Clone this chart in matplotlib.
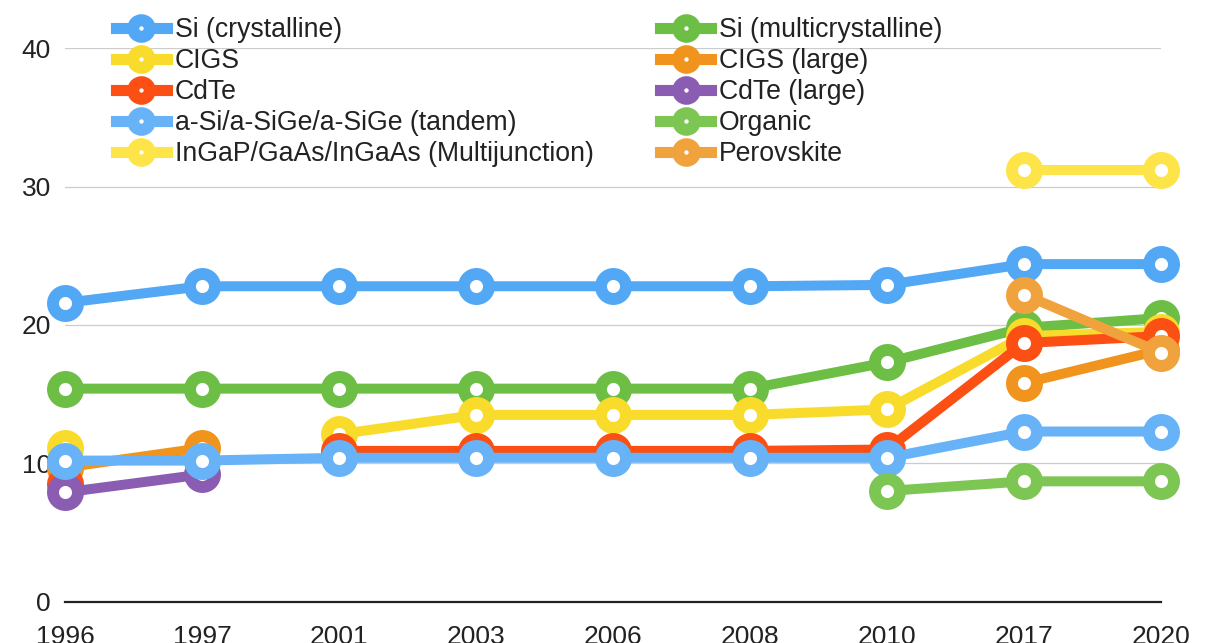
import numpy as np
import matplotlib
matplotlib.use("Agg")
import matplotlib.pyplot as plt
from matplotlib.lines import Line2D

plt.rcParams['font.family'] = ['Liberation Sans', 'DejaVu Sans']

years = ['1996', '1997', '2001', '2003', '2006', '2008', '2010', '2017', '2020']
nan = np.nan

# efficiency (%) per technology, nan where there is no record
si_cryst = [21.6, 22.8, 22.8, 22.8, 22.8, 22.8, 22.9, 24.4, 24.4]
si_multi = [15.4, 15.4, 15.4, 15.4, 15.4, 15.4, 17.3, 19.8, 20.5]
cigs = [11.1, nan, 12.1, 13.5, 13.5, 13.5, 13.9, 19.2, 19.5]
cigs_large = [9.7, 11.1, nan, nan, nan, nan, nan, 15.8, 18.2]
cdte = [8.5, nan, 10.9, 10.9, 10.9, 10.9, 11.0, 18.7, 19.2]
cdte_large = [7.9, 9.2, nan, nan, nan, nan, nan, nan, nan]
a_si = [10.2, 10.2, 10.4, 10.4, 10.4, 10.4, 10.4, 12.3, 12.3]
organic = [nan, nan, nan, nan, nan, nan, 8.0, 8.7, 8.7]
multijunction = [nan, nan, nan, nan, nan, nan, nan, 31.2, 31.2]
perovskite = [nan, nan, nan, nan, nan, nan, nan, 22.2, 18.0]

series = [
    ('Si (crystalline)', si_cryst, '#52a8f5'),
    ('Si (multicrystalline)', si_multi, '#6cbf44'),
    ('CIGS', cigs, '#f9dc2b'),
    ('CIGS (large)', cigs_large, '#f0941e'),
    ('CdTe', cdte, '#fb4f14'),
    ('CdTe (large)', cdte_large, '#8a5db3'),
    ('a-Si/a-SiGe/a-SiGe (tandem)', a_si, '#68b3f7'),
    ('Organic', organic, '#7ec653'),
    ('InGaP/GaAs/InGaAs (Multijunction)', multijunction, '#fde449'),
    ('Perovskite', perovskite, '#f0a23c'),
]

fig = plt.figure(figsize=(12.05, 6.43), dpi=100)
ax = fig.add_axes([65 / 1205, 41.3 / 643, (1161 - 65) / 1205, 553.4 / 643])

x = np.arange(len(years))
handles = {}
for name, vals, col in series:
    ax.plot(x, vals, color=col, lw=7.2, marker='o', ms=18, mew=8.6,
            mfc='white', mec=col, clip_on=False, zorder=3)
    handles[name] = Line2D([], [], color=col, lw=8, marker='o', ms=12,
                           mew=8.6, mfc='white', mec=col)

ax.set_xlim(0, len(years) - 1)
ax.set_ylim(0, 40)
ax.set_xticks(x)
ax.set_xticklabels(years)
ax.set_yticks([0, 10, 20, 30, 40])
ax.tick_params(axis='both', length=0, labelsize=19, colors='#222222')
ax.tick_params(axis='x', pad=17)
ax.tick_params(axis='y', pad=10)
for s in ['top', 'right', 'left']:
    ax.spines[s].set_visible(False)
ax.spines['bottom'].set_color('#222222')
ax.spines['bottom'].set_linewidth(1.6)
ax.spines['bottom'].set_zorder(2)
for v in [10, 20, 30, 40]:
    ax.axhline(v, color='#cccccc', lw=0.9, zorder=1)

# legend: left column then right column
order = [series[i][0] for i in [0, 2, 4, 6, 8, 1, 3, 5, 7, 9]]
fig.legend([handles[n] for n in order], order, ncol=2, frameon=False,
           loc='upper left', bbox_to_anchor=(116 / 1205, 1 - 17 / 643),
           fontsize=19.2, handlelength=1.9, handletextpad=0.3,
           labelspacing=0.19, columnspacing=2.5, borderpad=0, borderaxespad=0,
           labelcolor='#222222')

fig.savefig('out.png', dpi=100)
